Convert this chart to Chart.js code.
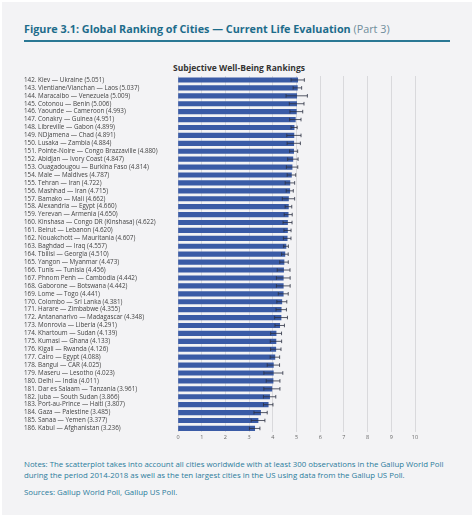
<html lang="en">
<head>
    <meta charset="UTF-8">
    <title>Global Ranking of Cities - Part 3</title>
    <style>
        body {
            margin: 0;
            padding: 0;
            background-color: #ffffff;
            font-family: 'Open Sans', sans-serif;
        }

        .panel {
            position: absolute;
            left: 2px;
            top: 2px;
            width: 470px;
            height: 513px;
            background-color: #f3f3f5;
        }

        .fig-title {
            position: absolute;
            left: 24px;
            top: 21px;
            font-size: 10.8px;
            font-weight: 700;
            color: #1d6c8b;
            white-space: nowrap;
        }

        .fig-title span {
            font-weight: 400;
            color: #6f8d9b;
        }

        .rule {
            position: absolute;
            left: 24px;
            top: 40px;
            width: 426px;
            height: 1.5px;
            background-color: #2a7894;
        }

        .chart-title {
            position: absolute;
            left: 24px;
            width: 430px;
            top: 62px;
            text-align: center;
            font-size: 8.5px;
            font-weight: 700;
            color: #333333;
        }

        .chart-box {
            position: absolute;
            left: 24px;
            top: 72px;
            width: 430px;
            height: 372px;
        }

        .notes {
            position: absolute;
            left: 24px;
            top: 459px;
            width: 445px;
            font-size: 7.85px;
            line-height: 11px;
            color: #2b7c9c;
            white-space: nowrap;
        }

        .notes p {
            margin: 0 0 6px 0;
        }
    </style>
</head>

<body>
    <div class="panel"></div>
    <div class="fig-title">Figure 3.1: Global Ranking of Cities — Current Life Evaluation <span>(Part 3)</span></div>
    <div class="rule"></div>
    <div class="chart-title">Subjective Well-Being Rankings</div>
    <div class="chart-box">
        <canvas id="rankChart"></canvas>
    </div>
    <div class="notes">
        <p>Notes: The scatterplot takes into account all cities worldwide with at least 300 observations in the Gallup World Poll<br>during the period 2014-2018 as well as the ten largest cities in the US using data from the Gallup US Poll.</p>
        <p>Sources: Gallup World Poll, Gallup US Poll.</p>
    </div>

    <script src="https://cdn.jsdelivr.net/npm/chart.js"></script>
    <script>
        // Rank, city and country for each row
        const ranks = [142, 143, 144, 145, 146, 147, 148, 149, 150, 151, 152, 153, 154, 155, 156,
            157, 158, 159, 160, 161, 162, 163, 164, 165, 166, 167, 168, 169, 170, 171,
            172, 173, 174, 175, 176, 177, 178, 179, 180, 181, 182, 183, 184, 185, 186];

        const cities = [
            'Kiev — Ukraine', 'Vientiane/Vianchan — Laos', 'Maracaibo — Venezuela', 'Cotonou — Benin',
            'Yaounde — Cameroon', 'Conakry — Guinea', 'Libreville — Gabon', 'NDjamena — Chad',
            'Lusaka — Zambia', 'Pointe-Noire — Congo Brazzaville', 'Abidjan — Ivory Coast',
            'Ouagadougou — Burkina Faso', 'Male — Maldives', 'Tehran — Iran', 'Mashhad — Iran',
            'Bamako — Mali', 'Alexandria — Egypt', 'Yerevan — Armenia', 'Kinshasa — Congo DR (Kinshasa)',
            'Beirut — Lebanon', 'Nouakchott — Mauritania', 'Baghdad — Iraq', 'Tbilisi — Georgia',
            'Yangon — Myanmar', 'Tunis — Tunisia', 'Phnom Penh — Cambodia', 'Gaborone — Botswana',
            'Lome — Togo', 'Colombo — Sri Lanka', 'Harare — Zimbabwe', 'Antananarivo — Madagascar',
            'Monrovia — Liberia', 'Khartoum — Sudan', 'Kumasi — Ghana', 'Kigali — Rwanda',
            'Cairo — Egypt', 'Bangui — CAR', 'Maseru — Lesotho', 'Delhi — India',
            'Dar es Salaam — Tanzania', 'Juba — South Sudan', 'Port-au-Prince — Haiti',
            'Gaza — Palestine', 'Sanaa — Yemen', 'Kabul — Afghanistan'
        ];

        // Life evaluation scores
        const scores = [5.051, 5.037, 5.009, 5.006, 4.993, 4.951, 4.899, 4.891, 4.884, 4.880,
            4.847, 4.814, 4.787, 4.722, 4.715, 4.662, 4.660, 4.650, 4.622, 4.620,
            4.607, 4.557, 4.510, 4.473, 4.456, 4.442, 4.442, 4.441, 4.381, 4.355,
            4.348, 4.291, 4.139, 4.133, 4.126, 4.088, 4.025, 4.023, 4.011, 3.961,
            3.866, 3.807, 3.485, 3.377, 3.236];

        // Half width of the confidence interval
        const margins = [0.28, 0.18, 0.45, 0.31, 0.27, 0.24, 0.13, 0.30, 0.28, 0.17,
            0.22, 0.24, 0.18, 0.20, 0.15, 0.26, 0.14, 0.17, 0.19, 0.15,
            0.16, 0.10, 0.14, 0.18, 0.27, 0.29, 0.29, 0.21, 0.21, 0.22,
            0.27, 0.20, 0.23, 0.24, 0.22, 0.20, 0.26, 0.40, 0.29, 0.34,
            0.26, 0.20, 0.28, 0.29, 0.22];

        // x axis ticks
        const xTicks = [0, 1, 2, 3, 4, 5, 6, 7, 8, 9, 10];

        const labels = ranks.map((r, i) => `${r}. ${cities[i]} (${scores[i].toFixed(3)})`);

        // Draw the whiskers on top of the bars
        const errorBars = {
            id: 'errorBars',
            afterDatasetsDraw(chart) {
                const ctx = chart.ctx;
                const xs = chart.scales.x;
                const ys = chart.scales.y;
                ctx.save();
                ctx.strokeStyle = '#2c3142';
                ctx.lineWidth = 0.8;
                scores.forEach((v, i) => {
                    const y = ys.getPixelForValue(i);
                    const x1 = xs.getPixelForValue(v - margins[i]);
                    const x2 = xs.getPixelForValue(v + margins[i]);
                    ctx.beginPath();
                    ctx.moveTo(x1, y);
                    ctx.lineTo(x2, y);
                    ctx.moveTo(x1, y - 1.8);
                    ctx.lineTo(x1, y + 1.8);
                    ctx.moveTo(x2, y - 1.8);
                    ctx.lineTo(x2, y + 1.8);
                    ctx.stroke();
                });
                ctx.restore();
            }
        };

        const ctx = document.getElementById('rankChart').getContext('2d');
        new Chart(ctx, {
            type: 'bar',
            data: {
                labels: labels,
                datasets: [{
                    data: scores,
                    backgroundColor: '#3a5ba6',
                    barThickness: 4.5
                }]
            },
            options: {
                indexAxis: 'y',
                responsive: true,
                maintainAspectRatio: false,
                animation: false,
                layout: {
                    padding: { top: 4, right: 39, bottom: 1, left: 0 }
                },
                plugins: {
                    legend: { display: false },
                    tooltip: { enabled: false }
                },
                scales: {
                    x: {
                        min: 0,
                        max: 10,
                        afterBuildTicks(scale) {
                            scale.ticks = xTicks.map(v => ({ value: v }));
                        },
                        grid: {
                            color: '#d9d9dc',
                            lineWidth: 1,
                            drawTicks: false
                        },
                        border: { display: false },
                        ticks: {
                            padding: 2,
                            color: '#666666',
                            font: { family: 'Open Sans', size: 5.5 }
                        }
                    },
                    y: {
                        afterFit(scale) {
                            scale.width = 154;
                        },
                        grid: { display: false },
                        border: { display: false },
                        ticks: {
                            autoSkip: false,
                            crossAlign: 'far',
                            padding: 0,
                            color: '#444444',
                            font: { family: 'Open Sans', size: 6.3 }
                        }
                    }
                }
            },
            plugins: [errorBars]
        });
    </script>
</body>

</html>
